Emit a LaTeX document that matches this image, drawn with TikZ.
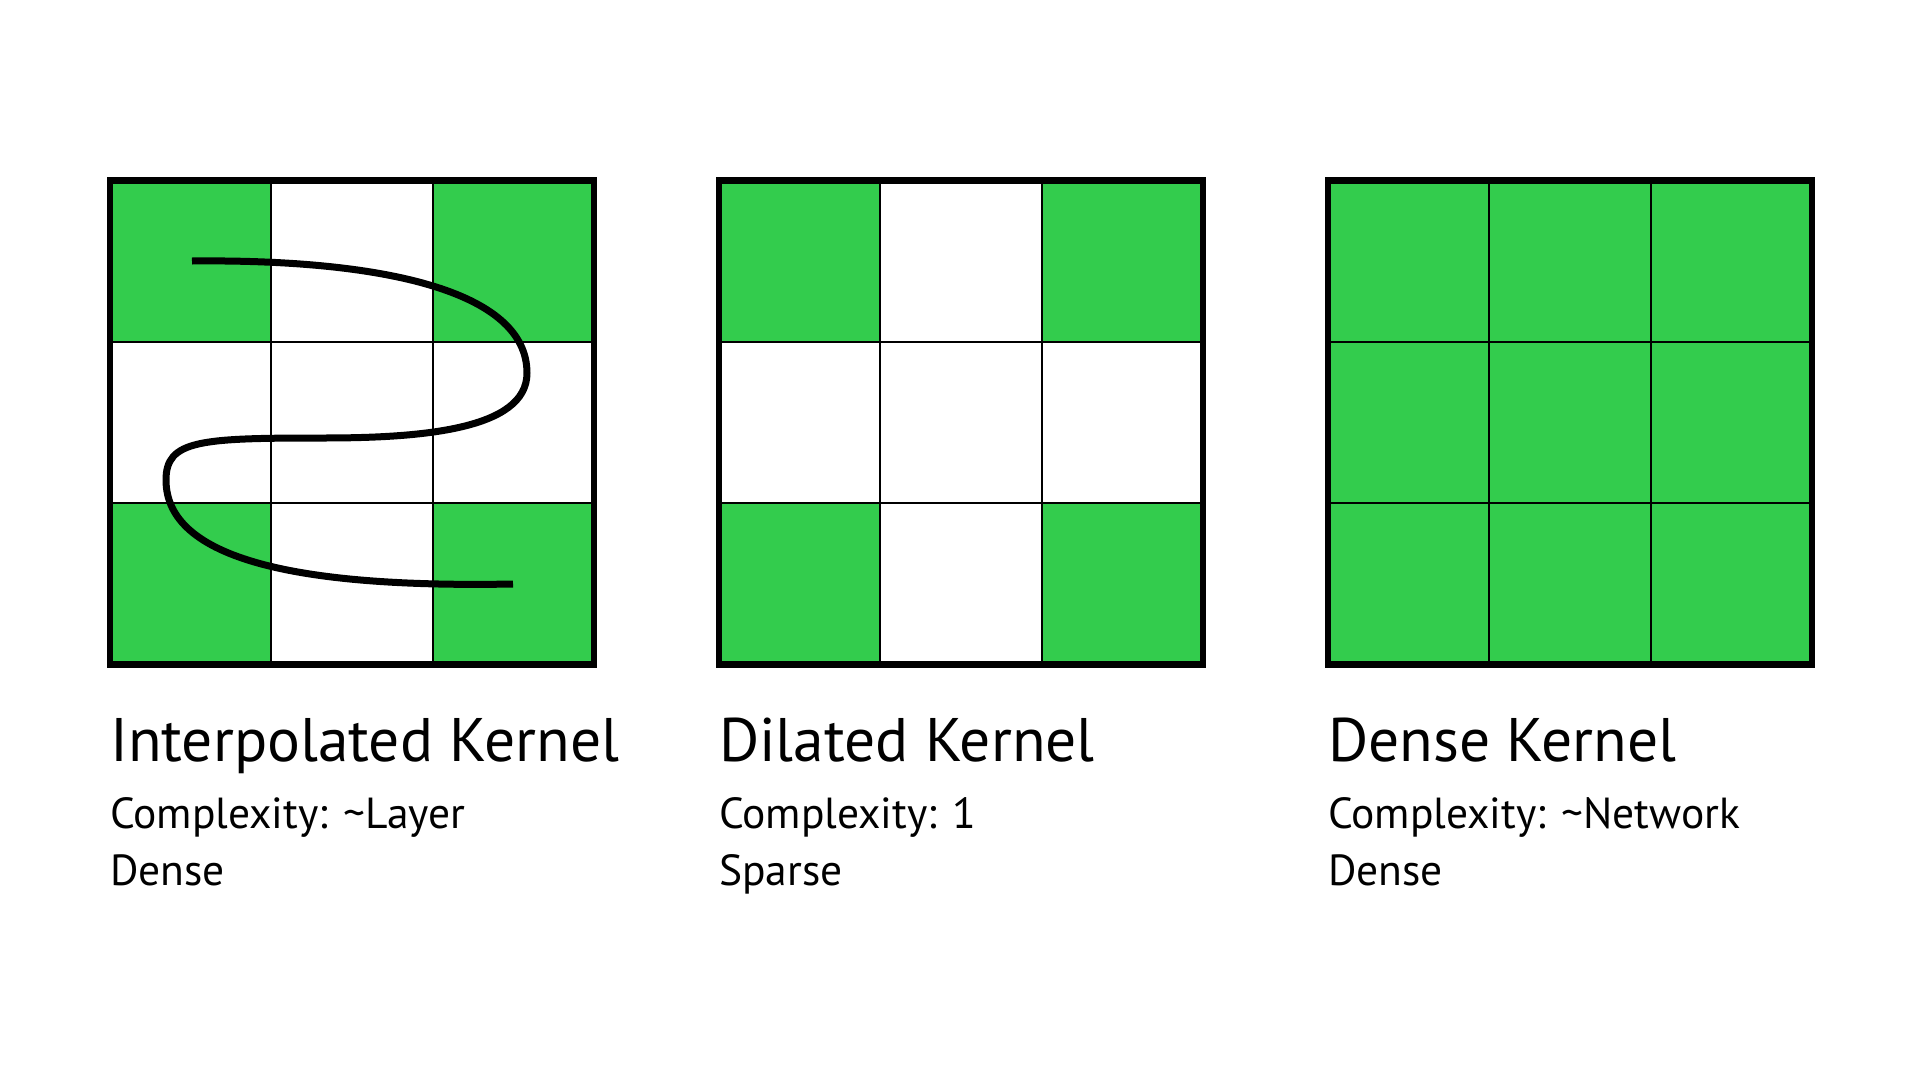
\documentclass[tikz,border=0pt]{standalone}
\usepackage{fontspec}
\setmainfont{PT Sans}
\definecolor{kgreen}{RGB}{51,204,77}
\begin{document}
\begin{tikzpicture}[x=1pt,y=-1pt,
  title/.style={anchor=base west,inner sep=0pt,font=\fontsize{61.5}{61.5}\selectfont},
  sub/.style={anchor=base west,inner sep=0pt,font=\fontsize{43.5}{43.5}\selectfont},
  gcell/.style={fill=kgreen},
  thin grid/.style={line width=2pt,draw=black},
  frame/.style={line width=6.5pt,draw=black},
  wave/.style={line width=7pt,line cap=butt}]
\useasboundingbox (0,0) rectangle (1923,1076);
\fill[white] (0,0) rectangle (1923,1076);
\foreach \gx/\pat in {110/{1,0,1,0,0,0,1,0,1},719/{1,0,1,0,0,0,1,0,1},1328/{1,1,1,1,1,1,1,1,1}}{
  \foreach \v [count=\i from 0] in \pat {
    \pgfmathtruncatemacro{\col}{mod(\i,3)}
    \pgfmathtruncatemacro{\row}{div(\i,3)}
    \ifnum\v=1
      \fill[gcell] ({\gx+\col*161.33},{180.5+\row*161.33}) rectangle ++(161.33,161.33);
    \fi
  }
  \draw[thin grid] ({\gx+161.33},180.5) -- ++(0,484);
  \draw[thin grid] ({\gx+322.67},180.5) -- ++(0,484);
  \draw[thin grid] (\gx,{180.5+161.33}) -- ++(484,0);
  \draw[thin grid] (\gx,{180.5+322.67}) -- ++(484,0);
  \draw[frame] (\gx,180.5) rectangle ++(484,484);
}
% interpolating curve
\draw[wave] (192,261) .. controls (380,259) and (527,290) .. (527,373)
  .. controls (527,430) and (420,438) .. (323,438)
  .. controls (200,438) and (166,440) .. (166,480)
  .. controls (166,560) and (300,588) .. (513,584);
% labels
\node[title] (t1) at (110,761.7) {Interpolated Kernel};
\node[sub] (c1) at (110,828) {Complexity: \char"7E Layer};
\node[sub] (d1) at (110,885) {Dense};
\node[title] (t2) at (719,761.7) {Dilated Kernel};
\node[sub] (c2) at (719,828) {Complexity: 1};
\node[sub] (d2) at (719,885) {Sparse};
\node[title] (t3) at (1328,761.7) {Dense Kernel};
\node[sub] (c3) at (1328,828) {Complexity: \char"7E Network};
\node[sub] (d3) at (1328,885) {Dense};
\end{tikzpicture}
\end{document}
